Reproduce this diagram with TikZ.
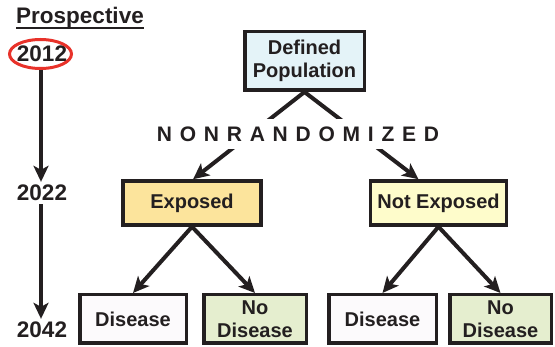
\documentclass[tikz,border=0pt]{standalone}
\usepackage{fontspec}
\setmainfont{Liberation Sans}
\usetikzlibrary{arrows.meta,positioning}
\definecolor{ink}{HTML}{231F20}
\definecolor{popfill}{HTML}{E4F3F8}
\definecolor{expfill}{HTML}{FCE49C}
\definecolor{notfill}{HTML}{FEFCCB}
\definecolor{disfill}{HTML}{FCFAFC}
\definecolor{nodisfill}{HTML}{E5EECF}
\definecolor{ringred}{HTML}{E8322A}

\begin{document}
\begin{tikzpicture}[x=1pt, y=-1pt,
  box/.style={rectangle, draw=ink, line width=3.5pt, align=center, inner sep=0pt, text=ink,
    font=\fontsize{20}{23}\selectfont\bfseries},
  year/.style={text=ink, inner sep=3pt, font=\fontsize{22.5}{25}\selectfont\bfseries},
  arr/.style={-{Stealth[length=16pt, width=15pt, inset=4pt]}, line width=4pt, ink}
]
  \useasboundingbox (0,0) rectangle (555,347);

  % timeline
  \node[text=ink, inner sep=0pt, font=\fontsize{22.5}{25}\selectfont\bfseries] (pros) at (80,18) {Prospective};
  \draw[ink, line width=2pt] ([yshift=-4pt]pros.base west) -- ([yshift=-4pt]pros.base east);
  \node[year] (y2012) at (42,54) {2012};
  \draw[ringred, line width=3pt] (40.5,54) ellipse (31pt and 14.5pt);
  \node[year] (y2022) at (42,193) {2022};
  \node[year] (y2042) at (42,330) {2042};
  \draw[arr] ([xshift=-1pt, yshift=-16pt]y2012.center) -- ([xshift=-1pt]y2022.north);
  \draw[arr] ([xshift=-1pt]y2022.south) -- ([xshift=-1pt]y2042.north);

  % boxes
  \node[box, fill=popfill, minimum width=119.5pt, minimum height=58.5pt] (pop) at (304.5,61) {Defined\\Population};
  \node[box, fill=expfill, minimum width=138pt, minimum height=44pt] (exp) at (192,203) {Exposed};
  \node[box, fill=notfill, minimum width=136pt, minimum height=44pt] (notexp) at (438.5,203) {Not Exposed};
  \node[box, fill=disfill, minimum width=106.5pt, minimum height=48.5pt] (dis1) at (133,319) {Disease};
  \node[box, fill=nodisfill, minimum width=102.5pt, minimum height=48.5pt] (nodis1) at (255,319) {No\\Disease};
  \node[box, fill=disfill, minimum width=107.5pt, minimum height=48.5pt] (dis2) at (382.5,319) {Disease};
  \node[box, fill=nodisfill, minimum width=101.5pt, minimum height=48.5pt] (nodis2) at (500.5,319) {No\\Disease};

  \draw[arr] (pop.south) -- ([xshift=1pt]exp.north);
  \draw[arr] (pop.south) -- ([xshift=-20pt]notexp.north);
  \node[fill=white, inner xsep=2pt, inner ysep=8pt, text=ink,
    font=\fontsize{21}{24}\selectfont\bfseries\addfontfeature{LetterSpace=37}] (nonrand) at (298,134) {NONRANDOMIZED};

  \draw[arr] (exp.south) -- (dis1.north);
  \draw[arr] (exp.south) -- (nodis1.north);
  \draw[arr] (notexp.south) -- (dis2.north);
  \draw[arr] (notexp.south) -- (nodis2.north);
\end{tikzpicture}
\end{document}
